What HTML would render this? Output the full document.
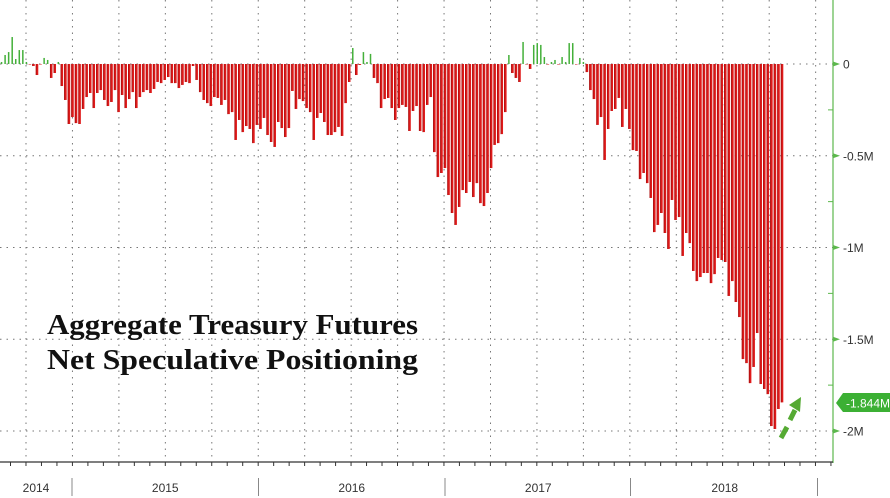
<!DOCTYPE html>
<html><head><meta charset="utf-8"><style>
html,body{margin:0;padding:0;background:#fff;}
svg{display:block;}
</style></head><body>
<svg id="chart" width="890" height="498" viewBox="0 0 890 498" xmlns="http://www.w3.org/2000/svg">
<g id="grid"></g>
<g id="bars"></g>
<g id="yaxis"></g>
<g id="xaxis"></g>
<text x="47" y="334" font-family="Liberation Serif, serif" font-weight="bold" font-size="28" textLength="371" lengthAdjust="spacingAndGlyphs" fill="#111">Aggregate Treasury Futures</text>
<text x="47" y="369" font-family="Liberation Serif, serif" font-weight="bold" font-size="28" textLength="371" lengthAdjust="spacingAndGlyphs" fill="#111">Net Speculative Positioning</text>
<g stroke="#55aa33" stroke-width="5" fill="#55aa33">
<line x1="781" y1="438" x2="787" y2="427"/>
<line x1="790" y1="420" x2="795" y2="410"/>
<polygon points="789,405 801,397 800,412" stroke="none"/>
</g>
<g>
<polygon points="836,403 843,393 890,393 890,412 843,412" fill="#3cb034"/>
<text x="846" y="407.5" font-family="Liberation Sans, sans-serif" font-size="12" fill="#fff">-1.844M</text>
</g>
</svg>
<script>
const values = [11,49,65,147,27,76,76,11,0,-11,-60,0,33,22,-76,-49,11,-120,-196,-327,-289,-322,-327,-245,-180,-158,-240,-158,-142,-196,-229,-207,-142,-262,-169,-240,-191,-153,-240,-180,-153,-142,-158,-136,-98,-104,-87,-71,-104,-104,-131,-114,-98,-104,-11,-87,-153,-196,
-213,-229,-180,-185,-223,-196,-273,-262,-414,-305,-371,-338,-354,-431,-332,-354,-294,-387,-425,-452,-316,-349,-398,-349,-147,-245,-191,-202,-240,-262,-414,-294,-267,-316,-387,-387,-371,-343,-392,-213,-98,87,-60,-5,65,11,55,-76,-104,
-240,-191,-185,-240,-305,-240,-223,-234,-365,-256,-229,-365,-371,-223,-180,-480,-616,-594,-567,-714,-812,-877,-779,-687,-703,-643,-725,-649,-758,-774,-703,-567,-441,-431,-382,-262,
49,-49,-76,-98,120,0,-27,104,114,104,38,0,11,22,0,38,11,114,114,0,33,11,
-44,-142,-191,-332,-289,-523,-354,-256,-245,-185,-343,-245,-354,-469,-474,-627,-594,-649,-730,-916,-877,-812,-921,-1008,-741,-850,-834,-1046,-921,-976,-1128,-1183,-1161,-1139,-1139,-1194,-1145,-1057,-1068,-1079,-1264,-1183,-1297,-1379,-1608,-1630,-1739,-1651,-1466,-1744,-1771,-1799,-1973,-1989,-1880,-1844];
const yTicks = [0,-500,-1000,-1500,-2000];
const yTickLabels = ["0","-0.5M","-1M","-1.5M","-2M"];
const years = ["2014","2015","2016","2017","2018"];

const NS="http://www.w3.org/2000/svg";
const y0=64, pxPerK=183.5/1000;
function yScale(v){return y0 - v*pxPerK;}
const xFirst=1.5, xLast=782;
function xScale(i){return xFirst + i*(xLast-xFirst)/(values.length-1);}
function mk(tag,attrs,parent){const e=document.createElementNS(NS,tag);for(const k in attrs)e.setAttribute(k,attrs[k]);parent.appendChild(e);return e;}

const grid=document.getElementById('grid');
// vertical grid
for(let k=0;k<18;k++){
  const x=26+k*46.45;
  const l=mk('line',{x1:x,y1:0,x2:x,y2:462,stroke:'#777','stroke-width':1,'stroke-dasharray':'1.5,5'},grid);
  
  
}
yTicks.forEach(v=>{
  const y=yScale(v);
  const l=mk('line',{x1:0,y1:y,x2:833,y2:y,stroke:'#777','stroke-width':1,'stroke-dasharray':'1.5,5'},grid);
  
  
});

const bars=document.getElementById('bars');
values.forEach((v,i)=>{
  const x=xScale(i);
  const yt=yScale(Math.max(v,0)), yb=yScale(Math.min(v,0));
  const h=Math.max(yb-yt,0.5);
  const pos=v>0;
  const r=mk('rect',{x:pos?x-0.7:x-1.2,y:yt,width:pos?1.5:2.5,height:h,fill:pos?'#44b03a':'#e01a1a'},bars);
  
  
  if(!pos){
    const e=mk('rect',{x:x-1.2,y:yt,width:0.8,height:h,fill:'#a80f0f'},bars);
    
    
  }
});

const ya=document.getElementById('yaxis');
const ax=mk('line',{x1:833,y1:0,x2:833,y2:463,stroke:'#5cb84c','stroke-width':1.2},ya);


for(let v=-250;v>=-2000;v-=500){
  const m=mk('line',{x1:828,y1:yScale(v),x2:833,y2:yScale(v),stroke:'#5cb84c'},ya);
  
  
}
yTicks.forEach((v,i)=>{
  const y=yScale(v);
  const t=mk('polygon',{points:`833,${y-2.5} 840,${y} 833,${y+2.5}`,fill:'#5cb84c'},ya);
  
  
  const tx=mk('text',{x:843,y:y+4.5,'font-family':'Liberation Sans, sans-serif','font-size':12,fill:'#333'},ya);
  tx.textContent=yTickLabels[i];
  
  
});

const xa=document.getElementById('xaxis');
const bl=mk('line',{x1:0,y1:462,x2:833,y2:462,stroke:'#333','stroke-width':1.2},xa);


for(let k=0;k<54;k++){
  const x=10.5+k*15.48;
  if(x>834)break;
  const t=mk('line',{x1:x,y1:462,x2:x,y2:466,stroke:'#333'},xa);
  
  
}
const yearStart=72, yearW=186.5;
[yearStart,yearStart+yearW,yearStart+2*yearW,yearStart+3*yearW-1,yearStart+4*yearW-0.5].forEach(x=>{
  const s=mk('line',{x1:x,y1:478,x2:x,y2:496,stroke:'#888','stroke-width':1},xa);
  
  
});
years.forEach((yr,i)=>{
  const cx = i===0 ? 36 : yearStart+(i-1)*yearW+yearW/2;
  const t=mk('text',{x:cx,y:492,'text-anchor':'middle','font-family':'Liberation Sans, sans-serif','font-size':12,fill:'#333'},xa);
  t.textContent=yr;
  
  
});
</script>
</body></html>
